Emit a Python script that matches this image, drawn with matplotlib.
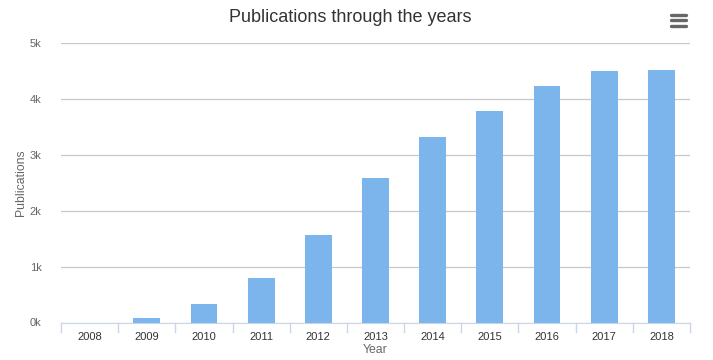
import numpy as np
import matplotlib.pyplot as plt
from matplotlib.lines import Line2D

plt.rcParams['font.family'] = ['Liberation Sans', 'DejaVu Sans']

years = ['2008', '2009', '2010', '2011', '2012', '2013', '2014', '2015', '2016', '2017', '2018']
publications = [0, 86, 331, 797, 1568, 2584, 3324, 3790, 4238, 4507, 4525]
yticks = [0, 1000, 2000, 3000, 4000, 5000]
ytick_labels = ['0k', '1k', '2k', '3k', '4k', '5k']

fig = plt.figure(figsize=(7.13, 3.6), dpi=100)
ax = fig.add_axes([61/713, 1-322.5/360, (690-61)/713, (322.5-43.3)/360])

x = np.arange(len(years))
ax.bar(x, publications, width=0.47, color='#7cb5ec', zorder=3)

ax.set_xlim(-0.5, len(years) - 0.5)
ax.set_ylim(0, 5000)
ax.set_yticks(yticks)
ax.set_yticklabels(ytick_labels, color='#666666', fontsize=8)
ax.set_xticks(x)
ax.set_xticklabels(years, color='#333333', fontsize=8)
ax.tick_params(axis='y', length=0, pad=14)
ax.tick_params(axis='x', length=0, pad=7)

# category boundary ticks
for b in np.arange(-0.5, len(years), 1.0):
    ax.plot([b, b], [0, -0.035], transform=ax.get_xaxis_transform(),
            color='#ccd6eb', lw=1, clip_on=False)

ax.grid(axis='y', color='#c8c8c8', lw=0.9, zorder=0)
for s in ['top', 'right', 'left']:
    ax.spines[s].set_visible(False)
ax.spines['bottom'].set_color('#ccd6eb')

ax.set_xlabel('Year', color='#666666', fontsize=8.8, labelpad=1)
ax.set_ylabel('Publications', color='#666666', fontsize=8.8, labelpad=2)

fig.text(350/713, 1-18/360, 'Publications through the years', ha='center', va='center',
         fontsize=13, color='#333333')

# menu icon
for yy in [15, 20.3, 25.6]:
    fig.add_artist(Line2D([671/713, 686/713], [1-yy/360, 1-yy/360], color='#666666',
                          lw=2.4, solid_capstyle='round'))

fig.savefig('out.png', dpi=100)
